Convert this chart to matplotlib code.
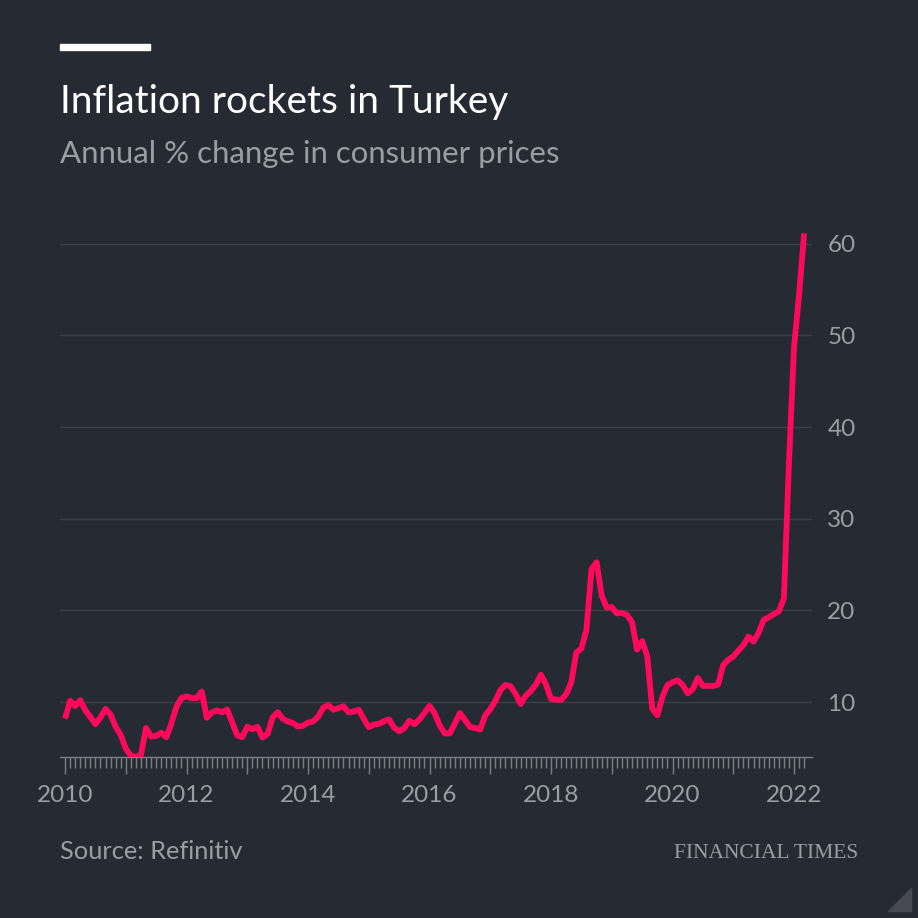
import matplotlib
matplotlib.use('Agg')
import matplotlib.pyplot as plt
from matplotlib.ticker import FixedLocator, FuncFormatter
from matplotlib.patches import Polygon, Rectangle

# annual % change in consumer prices, monthly, Jan 2010 - Mar 2022
CPI_2010 = [8.19, 10.13, 9.56, 10.19, 9.10, 8.37, 7.58, 8.33, 9.24, 8.62, 7.29, 6.40]
CPI_2011 = [4.90, 4.16, 3.99, 4.26, 7.17, 6.24, 6.31, 6.65, 6.15, 7.66, 9.48, 10.45]
CPI_2012 = [10.61, 10.43, 10.43, 11.14, 8.28, 8.87, 9.07, 8.88, 9.19, 7.80, 6.37, 6.16]
CPI_2013 = [7.31, 7.03, 7.29, 6.13, 6.51, 8.30, 8.88, 8.17, 7.88, 7.71, 7.32, 7.40]
CPI_2014 = [7.75, 7.89, 8.39, 9.38, 9.66, 9.16, 9.32, 9.54, 8.86, 8.96, 9.15, 8.17]
CPI_2015 = [7.24, 7.55, 7.61, 7.91, 8.09, 7.20, 6.81, 7.14, 7.95, 7.58, 8.10, 8.81]
CPI_2016 = [9.58, 8.78, 7.46, 6.57, 6.58, 7.64, 8.79, 8.05, 7.28, 7.16, 7.00, 8.53]
CPI_2017 = [9.22, 10.13, 11.29, 11.87, 11.72, 10.90, 9.79, 10.68, 11.20, 11.90, 12.98, 11.92]
CPI_2018 = [10.35, 10.26, 10.23, 10.85, 12.15, 15.39, 15.85, 17.90, 24.52, 25.24, 21.62, 20.30]
CPI_2019 = [20.35, 19.67, 19.71, 19.50, 18.71, 15.72, 16.65, 15.01, 9.26, 8.55, 10.56, 11.84]
CPI_2020 = [12.15, 12.37, 11.86, 10.94, 11.39, 12.62, 11.76, 11.77, 11.75, 11.89, 14.03, 14.60]
CPI_2021 = [14.97, 15.61, 16.19, 17.14, 16.59, 17.53, 18.95, 19.25, 19.58, 19.89, 21.31, 36.08]
CPI_2022 = [48.69, 54.44, 61.14]

START_YEAR = 2010
YEARS = list(range(2010, 2023))
Y_TICKS = [10, 20, 30, 40, 50, 60]

BG = '#262a33'
LINE = '#ff0a5a'
GRID = '#3c3f48'
GREY = '#9b9da4'
TICK = '#7d7f86'
FONT = 'Lato'

values = (CPI_2010 + CPI_2011 + CPI_2012 + CPI_2013 + CPI_2014 + CPI_2015 +
          CPI_2016 + CPI_2017 + CPI_2018 + CPI_2019 + CPI_2020 + CPI_2021 + CPI_2022)
dates = [START_YEAR + i / 12.0 for i in range(len(values))]

fig = plt.figure(figsize=(9.18, 9.18), dpi=100, facecolor=BG)
W = H = 918.0

# axes box in pixels: x 60..812, y 198..757 (from top)
ax = fig.add_axes([60 / W, 1 - 757 / H, (812 - 60) / W, (757 - 198) / H])
ax.set_facecolor(BG)

ax.plot(dates, values, color=LINE, linewidth=4.2, solid_joinstyle='round',
        solid_capstyle='butt', zorder=3)

ax.set_xlim(START_YEAR - 1 / 12.0, 2022.296)
ax.set_ylim(4.0, 65)

ax.set_yticks(Y_TICKS)
ax.yaxis.tick_right()
ax.yaxis.grid(True, color=GRID, linewidth=1.0)
ax.set_axisbelow(True)
ax.tick_params(axis='y', length=0, pad=11, labelsize=17.5, labelcolor=GREY)

ax.xaxis.set_major_locator(FixedLocator(YEARS))
ax.xaxis.set_minor_locator(FixedLocator(dates))
ax.xaxis.set_major_formatter(FuncFormatter(
    lambda v, p: '%d' % round(v) if round(v) % 2 == 0 else ''))
ax.tick_params(axis='x', which='major', length=12, width=1, color=TICK,
               pad=8, labelsize=17.5, labelcolor=GREY)
ax.tick_params(axis='x', which='minor', length=8, width=1, color=TICK)

for side in ['top', 'left', 'right']:
    ax.spines[side].set_visible(False)
ax.spines['bottom'].set_color(TICK)
ax.spines['bottom'].set_linewidth(1)

for lab in ax.get_xticklabels() + ax.get_yticklabels():
    lab.set_fontfamily(FONT)

# header
fig.patches.append(Rectangle((60 / W, 1 - 50 / H), 90 / W, 6 / H,
                             transform=fig.transFigure, color='white'))
fig.text(60 / W, 1 - 113 / H, 'Inflation rockets in Turkey', color='white',
         fontsize=28, family=FONT, va='baseline')
fig.text(60 / W, 1 - 163 / H, 'Annual % change in consumer prices', color=GREY,
         fontsize=22.4, family=FONT, va='baseline')

# footer
fig.text(60 / W, 1 - 859 / H, 'Source: Refinitiv', color=GREY,
         fontsize=18.3, family=FONT, va='baseline')
fig.text(858 / W, 1 - 858 / H, 'FINANCIAL TIMES', color=GREY,
         fontsize=15.5, family='Liberation Serif', ha='right', va='baseline')
fig.patches.append(Polygon([(911 / W, 1 - 888 / H), (911 / W, 1 - 911 / H),
                            (888 / W, 1 - 911 / H)], closed=True,
                           transform=fig.transFigure, color='#474a52'))

fig.savefig('out.png', dpi=100, facecolor=BG)
